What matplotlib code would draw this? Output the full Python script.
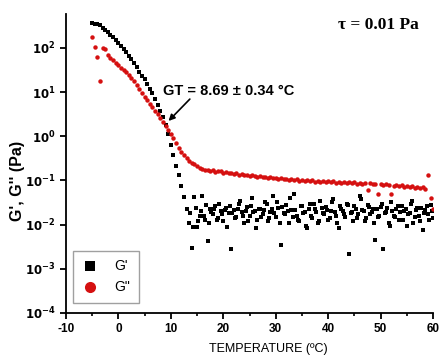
import numpy as np
import matplotlib as mpl
mpl.use('Agg')
import matplotlib.pyplot as plt
from matplotlib.ticker import FixedLocator, FuncFormatter, MultipleLocator, NullLocator

plt.rcParams['font.family'] = ['Liberation Sans', 'DejaVu Sans']
plt.rcParams['axes.unicode_minus'] = False

# temperature sweep (degC)
temps = [-5.0, -4.5, -4.0, -3.5, -3.0, -2.5, -2.0, -1.5, -1.0, -0.5,
         0.0, 0.5, 1.0, 1.5, 2.0, 2.5, 3.0, 3.5, 4.0, 4.5,
         5.0, 5.5, 6.0, 6.5, 7.0, 7.5, 8.0, 8.5, 9.0, 9.5,
         10.0, 10.5, 11.0, 11.5, 12.0, 12.5, 13.0, 13.5, 14.0, 14.5,
         15.0, 15.5, 16.0, 16.5, 17.0, 17.5, 18.0, 18.5, 19.0, 19.5,
         20.0, 20.5, 21.0, 21.5, 22.0, 22.5, 23.0, 23.5, 24.0, 24.5,
         25.0, 25.5, 26.0, 26.5, 27.0, 27.5, 28.0, 28.5, 29.0, 29.5,
         30.0, 30.5, 31.0, 31.5, 32.0, 32.5, 33.0, 33.5, 34.0, 34.5,
         35.0, 35.5, 36.0, 36.5, 37.0, 37.5, 38.0, 38.5, 39.0, 39.5,
         40.0, 40.5, 41.0, 41.5, 42.0, 42.5, 43.0, 43.5, 44.0, 44.5,
         45.0, 45.5, 46.0, 46.5, 47.0, 47.5, 48.0, 48.5, 49.0, 49.5,
         50.0, 50.5, 51.0, 51.5, 52.0, 52.5, 53.0, 53.5, 54.0, 54.5,
         55.0, 55.5, 56.0, 56.5, 57.0, 57.5, 58.0, 58.5, 59.0, 59.5,
         60.0]

# G' (storage modulus, Pa)
g_store = [370, 350, 340, 330, 285, 250, 225, 200, 175, 150,
           130, 112, 95, 80, 66, 55, 45, 36, 29, 23,
           19.5, 15.5, 12, 9.3, 7.0, 5.2, 3.8, 2.7, 1.8, 1.1,
           0.62, 0.37, 0.21, 0.13, 0.075, 0.042, 0.022, 0.011, 0.003, 0.042,
           0.009, 0.016, 0.045, 0.013, 0.0042, 0.022, 0.017, 0.026, 0.014, 0.02,
           0.012, 0.024, 0.018, 0.0028, 0.021, 0.015, 0.03, 0.019, 0.011, 0.025,
           0.016, 0.04, 0.02, 0.013, 0.023, 0.017, 0.033, 0.012, 0.019, 0.045,
           0.015, 0.024, 0.0035, 0.018, 0.028, 0.011, 0.021, 0.05, 0.016, 0.012,
           0.026, 0.019, 0.0085, 0.03, 0.014, 0.022, 0.011, 0.035, 0.018, 0.025,
           0.013, 0.02, 0.038, 0.016, 0.0085, 0.023, 0.017, 0.03, 0.0022, 0.019,
           0.026, 0.014, 0.045, 0.021, 0.012, 0.028, 0.017, 0.022, 0.0045, 0.015,
           0.025, 0.0028, 0.019, 0.011, 0.032, 0.016, 0.023, 0.013, 0.027, 0.02,
           0.0095, 0.018, 0.035, 0.015, 0.024, 0.012, 0.0075, 0.021, 0.017, 0.028,
           0.014]

# G' readings taken between the main steps (plateau region)
temps_mid = [13.75, 14.25, 14.75, 15.25, 15.75, 16.25, 16.75, 17.25, 17.75, 18.25,
             18.75, 19.25, 19.75, 20.25, 20.75, 21.25, 21.75, 22.25, 22.75, 23.25,
             23.75, 24.25, 24.75, 25.25, 25.75, 26.25, 26.75, 27.25, 27.75, 28.25,
             28.75, 29.25, 29.75, 30.25, 30.75, 31.25, 31.75, 32.25, 32.75, 33.25,
             33.75, 34.25, 34.75, 35.25, 35.75, 36.25, 36.75, 37.25, 37.75, 38.25,
             38.75, 39.25, 39.75, 40.25, 40.75, 41.25, 41.75, 42.25, 42.75, 43.25,
             43.75, 44.25, 44.75, 45.25, 45.75, 46.25, 46.75, 47.25, 47.75, 48.25,
             48.75, 49.25, 49.75, 50.25, 50.75, 51.25, 51.75, 52.25, 52.75, 53.25,
             53.75, 54.25, 54.75, 55.25, 55.75, 56.25, 56.75, 57.25, 57.75, 58.25,
             58.75, 59.25, 59.75]
g_store_mid = [0.018, 0.009, 0.024, 0.012, 0.02, 0.016, 0.028, 0.011, 0.019, 0.023,
               0.013, 0.03, 0.017, 0.021, 0.009, 0.026, 0.018, 0.014, 0.022, 0.035,
               0.016, 0.02, 0.012, 0.027, 0.019, 0.0085, 0.023, 0.015, 0.021, 0.029,
               0.014, 0.022, 0.018, 0.032, 0.011, 0.025, 0.017, 0.02, 0.04, 0.015,
               0.021, 0.013, 0.027, 0.018, 0.0095, 0.023, 0.016, 0.03, 0.019, 0.012,
               0.024, 0.017, 0.021, 0.014, 0.033, 0.019, 0.011, 0.026, 0.02, 0.015,
               0.028, 0.018, 0.012, 0.023, 0.017, 0.037, 0.02, 0.014, 0.025, 0.019,
               0.011, 0.022, 0.016, 0.03, 0.018, 0.024, 0.0095, 0.02, 0.015, 0.027,
               0.019, 0.013, 0.022, 0.017, 0.029, 0.011, 0.021, 0.016, 0.024, 0.018,
               0.026, 0.013, 0.02]

# G'' (loss modulus, Pa)
g_loss = [180, 105, 63, 18, 100, 96, 70, 60, 52, 45,
          40, 35, 31, 28, 24, 20.5, 17.5, 14.8, 12, 9.5,
          7.8, 6.5, 5.4, 4.5, 3.8, 3.2, 2.6, 2.15, 1.75, 1.42,
          1.15, 0.92, 0.72, 0.55, 0.44, 0.37, 0.32, 0.28, 0.25, 0.23,
          0.21, 0.195, 0.185, 0.175, 0.17, 0.16, 0.17, 0.155, 0.165, 0.16,
          0.15, 0.155, 0.145, 0.15, 0.14, 0.145, 0.135, 0.14, 0.13, 0.135,
          0.128, 0.132, 0.125, 0.12, 0.126, 0.118, 0.122, 0.115, 0.118, 0.112,
          0.115, 0.108, 0.112, 0.105, 0.11, 0.102, 0.108, 0.1, 0.105, 0.098,
          0.104, 0.096, 0.102, 0.095, 0.1, 0.094, 0.099, 0.092, 0.097, 0.091,
          0.096, 0.09, 0.095, 0.089, 0.094, 0.088, 0.093, 0.087, 0.092, 0.086,
          0.09, 0.085, 0.089, 0.084, 0.088, 0.06, 0.086, 0.082, 0.085, 0.05,
          0.083, 0.079, 0.082, 0.077, 0.05, 0.076, 0.079, 0.074, 0.077, 0.072,
          0.075, 0.07, 0.073, 0.068, 0.071, 0.066, 0.07, 0.065, 0.13, 0.04,
          0.022]

fig = plt.figure(figsize=(4.42, 3.56), dpi=100)
ax = fig.add_axes([0.149, 0.121, 0.831, 0.840])

ax.plot(temps, g_store, ls='none', marker='s', ms=2.6, color='black', mew=0, label="G'")
ax.plot(temps_mid, g_store_mid, ls='none', marker='s', ms=2.6, color='black', mew=0)
ax.plot(temps, g_loss, ls='none', marker='o', ms=3.2, color='#d51010', mew=0, label='G"')

ax.set_yscale('log')
ax.set_xlim(-10, 60)
ax.set_ylim(1e-4, 10 ** 2.77)

ax.spines['top'].set_visible(False)
ax.spines['right'].set_visible(False)
for s in ('left', 'bottom'):
    ax.spines[s].set_linewidth(1.3)

ax.xaxis.set_major_locator(MultipleLocator(10))
ax.xaxis.set_minor_locator(MultipleLocator(5))
ax.yaxis.set_major_locator(FixedLocator([1e-4, 1e-3, 1e-2, 1e-1, 1, 10, 100]))
ax.yaxis.set_minor_locator(NullLocator())
ax.yaxis.set_major_formatter(FuncFormatter(
    lambda v, p: r'$\mathbf{10^{%d}}$' % int(round(np.log10(v)))))
ax.tick_params(which='major', direction='out', length=4, width=1.3, labelsize=8.5)
ax.tick_params(which='minor', direction='out', length=2, width=1.2)
for lab in ax.get_xticklabels():
    lab.set_fontweight('bold')

ax.set_xlabel('TEMPERATURE (ºC)', fontsize=9)
ax.xaxis.set_label_coords(0.55, -0.10)
ax.set_ylabel("G', G'' (Pa)", fontsize=11.5, fontweight='bold')
ax.yaxis.set_label_coords(-0.112, 0.44)

ax.text(8.5, 10.5, 'GT = 8.69 ± 0.34 °C', fontsize=10.5, fontweight='bold', va='center')
ax.annotate('', xy=(9.2, 2.0), xytext=(14.0, 7.7),
            arrowprops=dict(arrowstyle='-|>', color='black', lw=1.2, mutation_scale=9))
ax.text(0.96, 0.963, 'τ = 0.01 Pa', transform=ax.transAxes, ha='right', va='center',
        fontsize=12.5, fontweight='bold', family=['Liberation Serif', 'DejaVu Serif'])

leg = ax.legend(loc='lower left', bbox_to_anchor=(0.019, 0.034), borderaxespad=0,
                markerscale=2.5, fontsize=10, fancybox=False, edgecolor='#888888',
                handletextpad=1.2, labelspacing=0.5, borderpad=0.6, handlelength=1.2)
leg.get_frame().set_linewidth(1.0)

plt.savefig('out.png', dpi=100)
